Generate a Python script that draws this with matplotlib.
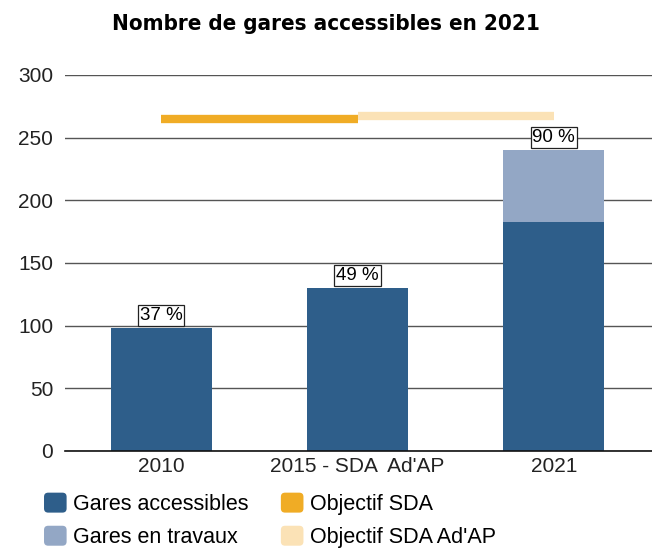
import matplotlib
matplotlib.use("Agg")
import matplotlib.pyplot as plt
from matplotlib.patches import Patch, FancyBboxPatch
from matplotlib.legend_handler import HandlerPatch
import numpy as np

categories = ["2010", "2015 - SDA  Ad'AP", "2021"]
gares_accessibles = [98, 130, 183]
gares_travaux = [0, 0, 57]
pct_labels = ["37 %", "49 %", "90 %"]
objectif_sda = 265          # from 2010 to 2015
objectif_sda_adap = 267     # from 2015 to 2021

C_DARK = "#2e5e8a"
C_LIGHT = "#93a7c5"
C_ORANGE = "#f0ac25"
C_PALE = "#fbe2b6"

plt.rcParams["font.family"] = ["Liberation Sans", "DejaVu Sans"]


class RoundSquare(HandlerPatch):
    def create_artists(self, legend, orig_handle, xdescent, ydescent, width, height, fontsize, trans):
        p = FancyBboxPatch((-xdescent + 2, -ydescent + 2), width - 4, height - 4,
                           boxstyle="round,pad=2,rounding_size=3",
                           fc=orig_handle.get_facecolor(), ec="none", transform=trans)
        return [p]


fig = plt.figure(figsize=(6.52, 5.48), dpi=100)
ax = fig.add_axes([65 / 652, 1 - 451 / 548, 1 - 65 / 652, 376 / 548])

x = np.arange(len(categories))
w = 0.515
ax.bar(x, gares_accessibles, width=w, color=C_DARK, zorder=3)
ax.bar(x, gares_travaux, width=w, bottom=gares_accessibles, color=C_LIGHT, zorder=3)

ax.plot([x[0], x[1]], [objectif_sda] * 2, color=C_ORANGE, lw=6, solid_capstyle="butt", zorder=3)
ax.plot([x[1], x[2]], [objectif_sda_adap] * 2, color=C_PALE, lw=6, solid_capstyle="butt", zorder=3)

totals = np.array(gares_accessibles) + np.array(gares_travaux)
for xi, t, lab in zip(x, totals, pct_labels):
    ax.annotate(lab, (xi, t), xytext=(0, 3), textcoords="offset points",
                ha="center", va="bottom", fontsize=13.5, zorder=4,
                bbox=dict(boxstyle="square,pad=0.1", fc="white", ec="#222222", lw=0.9))

ax.set_xlim(-0.49, 2.5)
ax.set_ylim(0, 300)
ax.set_yticks(range(0, 301, 50))
ax.set_xticks(x)
ax.set_xticklabels(categories)
ax.tick_params(axis="both", length=0, labelsize=15, colors="#222222")
ax.tick_params(axis="y", pad=8.5)
ax.tick_params(axis="x", pad=4)
ax.grid(axis="y", color="#555555", lw=1, zorder=0)
for s in ["top", "right", "left"]:
    ax.spines[s].set_visible(False)
ax.spines["bottom"].set_color("#111111")
ax.spines["bottom"].set_linewidth(1.2)
ax.spines["bottom"].set_zorder(5)

fig.text(0.5, 1 - 24 / 548, "Nombre de gares accessibles en 2021", ha="center", va="center",
         fontsize=16, fontweight="bold", family=["DejaVu Sans"], stretch="condensed")

handles = [Patch(color=C_DARK), Patch(color=C_LIGHT), Patch(color=C_ORANGE), Patch(color=C_PALE)]
labels = ["Gares accessibles", "Gares en travaux", "Objectif SDA", "Objectif SDA Ad'AP"]
fig.legend(handles, labels, ncol=2, loc="upper left", bbox_to_anchor=(0.0675, 0.101),
           frameon=False, fontsize=15.5, handlelength=1.05, handleheight=1.05,
           handletextpad=0.3, columnspacing=1.5, labelspacing=0.5,
           borderaxespad=0, borderpad=0, handler_map={Patch: RoundSquare()})

fig.savefig("out.png", dpi=100)
